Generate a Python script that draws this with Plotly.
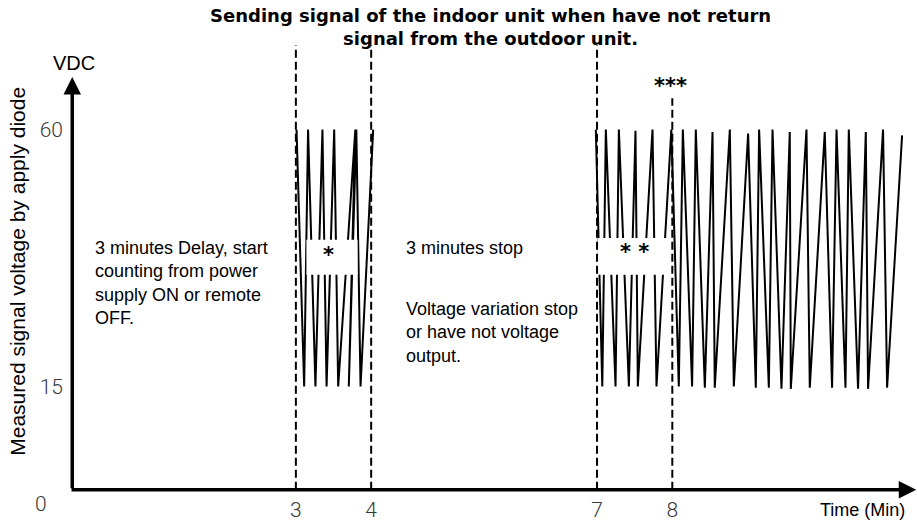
import plotly.graph_objects as go

# ---- data -------------------------------------------------------------
# Signal sent between minute 3 and 4 (first burst after the delay)
burst1_t = [3.009, 3.110, 3.162, 3.260, 3.353, 3.408, 3.509, 3.562,
            3.790, 3.703, 3.803, 3.859, 4.027]
burst1_v = [60, 15, 60, 15, 60, 15, 60, 15, 60, 15, 60, 15, 60]

# Signal sent again from minute 7 onward
burst2_t = [6.984, 7.070, 7.117, 7.246, 7.290, 7.423, 7.511, 7.542, 7.737, 7.790,
            7.987, 8.086, 8.140, 8.263, 8.312, 8.432, 8.534, 8.564, 8.764, 8.817,
            9.007, 9.109, 9.153, 9.282, 9.331, 9.450, 9.560, 9.574, 9.782, 9.826,
            10.025, 10.122, 10.181, 10.300, 10.344, 10.467, 10.570, 10.600,
            10.799, 10.853, 11.052]
burst2_v = [60, 15, 60, 15, 60, 15, 59.8, 15, 60, 15,
            60, 15, 60, 15, 60, 14.8, 59.6, 14.8, 60, 15,
            59.3, 14.8, 60, 14.8, 60, 14.6, 59.6, 14.6, 60, 14.8,
            59.6, 14.8, 60, 14.8, 60, 14.6, 59.6, 14.6,
            60, 14.8, 59.0]

# Time marks and voltage marks
x_ticks = [3, 4, 7, 8]
x_tick_text = ["3", "4", "7", "8"]
y_ticks = [15, 60]
y_tick_text = ["15", "60"]

TEXT_FONT = "Liberation Sans, Arial, sans-serif"
TICK_FONT = dict(family="Roboto, Liberation Sans, sans-serif", size=21,
                 color="#3a3a3a", weight=300)

# plot area in pixels (used to place paper-referenced labels)
M_L, M_R, M_T, M_B = 70, 0, 44, 26
W, H = 917, 521
PW, PH = W - M_L - M_R, H - M_T - M_B

fig = go.Figure()

for t, v in [(burst1_t, burst1_v), (burst2_t, burst2_v)]:
    fig.add_trace(go.Scatter(x=t, y=v, mode="lines",
                             line=dict(color="black", width=2),
                             hoverinfo="skip", showlegend=False))

# white label boxes over the waveform
fig.add_shape(type="rect", x0=3.14, x1=3.82, y0=34.6, y1=40.7,
              fillcolor="white", line=dict(width=0), layer="above")
fig.add_shape(type="rect", x0=7.01, x1=7.94, y0=34.6, y1=41.0,
              fillcolor="white", line=dict(width=0), layer="above")

# dashed boundaries of the time phases
dash_line = dict(color="black", width=2, dash="8px,4px")
for xv, top in [(3, 74.8), (4, 74.8), (7, 74.8), (8, 65.5)]:
    fig.add_shape(type="line", x0=xv, x1=xv, y0=-3.1, y1=top,
                  line=dash_line, layer="above")

# axis arrows
fig.add_annotation(x=0.03, y=69.2, ax=0.03, ay=-3.1, xref="x", yref="y",
                   axref="x", ayref="y", showarrow=True, arrowhead=2,
                   arrowsize=1, arrowwidth=3.5, arrowcolor="black", text="")
fig.add_annotation(x=11.24, y=-3.1, ax=0.0, ay=-3.1, xref="x", yref="y",
                   axref="x", ayref="y", showarrow=True, arrowhead=2,
                   arrowsize=1, arrowwidth=3.5, arrowcolor="black", text="")

body = dict(family=TEXT_FONT, size=18, color="black")
fig.add_annotation(x=0.30, y=33.2, xref="x", yref="y", showarrow=False,
                   xanchor="left", yanchor="middle", align="left",
                   text="3 minutes Delay, start<br>counting from power<br>supply ON or remote<br>OFF.",
                   font=body)
fig.add_annotation(x=4.44, y=39.3, xref="x", yref="y", showarrow=False,
                   xanchor="left", yanchor="middle", align="left",
                   text="3 minutes stop", font=body)
fig.add_annotation(x=4.44, y=24.4, xref="x", yref="y", showarrow=False,
                   xanchor="left", yanchor="middle", align="left",
                   text="Voltage variation stop<br>or have not voltage<br>output.",
                   font=body)

star = dict(family="DejaVu Sans, sans-serif", size=21, color="black", weight="bold")
fig.add_annotation(x=3.44, y=38.1, xref="x", yref="y", showarrow=False,
                   text="*", font=star)
fig.add_annotation(x=7.50, y=38.6, xref="x", yref="y", showarrow=False,
                   text="* *", font=star)
fig.add_annotation(x=7.97, y=67.6, xref="x", yref="y", showarrow=False,
                   text="***", font=star)

fig.add_annotation(x=0.05, y=71.7, xref="x", yref="y", showarrow=False,
                   text="VDC", font=dict(family=TEXT_FONT, size=20, color="black"))
fig.add_annotation(x=(862 - M_L) / PW, y=(H - M_B - 510) / PH,
                   xref="paper", yref="paper", showarrow=False,
                   xanchor="center", yanchor="middle",
                   text="Time (Min)", font=dict(family=TEXT_FONT, size=18, color="black"))
fig.add_annotation(x=(41 - M_L) / PW, y=(H - M_B - 504) / PH,
                   xref="paper", yref="paper", showarrow=False,
                   xanchor="center", yanchor="middle",
                   text="0", font=TICK_FONT)
fig.add_annotation(x=(18 - M_L) / PW, y=35.1, xref="paper", yref="y", showarrow=False,
                   xanchor="center", yanchor="middle",
                   textangle=-90, text="Measured signal voltage by apply diode",
                   font=dict(family=TEXT_FONT, size=21, color="black"))

fig.update_layout(
    width=W, height=H,
    margin=dict(l=M_L, r=M_R, t=M_T, b=M_B),
    paper_bgcolor="white", plot_bgcolor="white",
    title=dict(text="Sending signal of the indoor unit when have not return<br>signal from the outdoor unit.",
               x=0.535, xanchor="center", y=1 - 21.5 / H, yanchor="middle",
               font=dict(family="DejaVu Sans, sans-serif", size=18, color="black",
                         weight="bold")),
    xaxis=dict(range=[0, 11.25], showgrid=False, zeroline=False, showline=False,
               tickvals=x_ticks, ticktext=x_tick_text, ticks="",
               tickfont=TICK_FONT, fixedrange=True),
    yaxis=dict(range=[-4, 75], showgrid=False, zeroline=False, showline=False,
               tickvals=y_ticks, ticktext=y_tick_text, ticks="",
               ticklabelstandoff=6,
               tickfont=TICK_FONT, fixedrange=True),
    showlegend=False,
)

fig.write_html("out.html")
